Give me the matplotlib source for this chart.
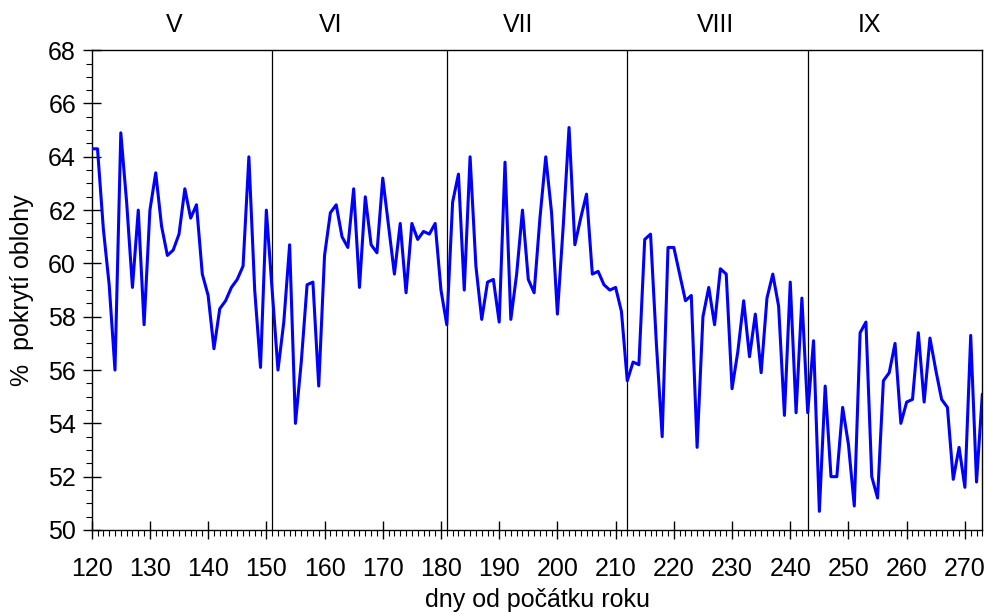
import numpy as np
import matplotlib
matplotlib.use("Agg")
import matplotlib.pyplot as plt
from matplotlib.ticker import MultipleLocator
import matplotlib.transforms as mtransforms

plt.rcParams['font.family'] = ['Liberation Sans', 'DejaVu Sans']

# den v roce 120..273, denni pokryti oblohy (%)
dny = np.arange(120, 274)
pokryti = [
    64.3, 64.3, 61.3, 59.2, 56.0, 64.9, 62.3, 59.1, 62.0, 57.7,   # 120-129
    62.0, 63.4, 61.4, 60.3, 60.5, 61.1, 62.8, 61.7, 62.2, 59.6,   # 130-139
    58.8, 56.8, 58.3, 58.6, 59.1, 59.4, 59.9, 64.0, 59.0, 56.1,   # 140-149
    62.0, 59.0, 56.0, 57.8, 60.7, 54.0, 56.3, 59.2, 59.3, 55.4,   # 150-159
    60.3, 61.9, 62.2, 61.0, 60.6, 62.8, 59.1, 62.5, 60.7, 60.4,   # 160-169
    63.2, 61.4, 59.6, 61.5, 58.9, 61.5, 60.9, 61.2, 61.1, 61.5,   # 170-179
    59.0, 57.7, 62.3, 63.35, 59.0, 64.0, 59.9, 57.9, 59.3, 59.4,  # 180-189
    57.8, 63.8, 57.9, 59.6, 62.0, 59.4, 58.9, 61.7, 64.0, 61.9,   # 190-199
    58.1, 61.4, 65.1, 60.7, 61.7, 62.6, 59.6, 59.7, 59.2, 59.0,   # 200-209
    59.1, 58.2, 55.6, 56.3, 56.2, 60.9, 61.1, 57.0, 53.5, 60.6,   # 210-219
    60.6, 59.6, 58.6, 58.8, 53.1, 58.0, 59.1, 57.7, 59.8, 59.6,   # 220-229
    55.3, 56.7, 58.6, 56.5, 58.1, 55.9, 58.7, 59.6, 58.4, 54.3,   # 230-239
    59.3, 54.4, 58.7, 54.4, 57.1, 50.7, 55.4, 52.0, 52.0, 54.6,   # 240-249
    53.2, 50.9, 57.4, 57.8, 52.0, 51.2, 55.6, 55.9, 57.0, 54.0,   # 250-259
    54.8, 54.9, 57.4, 54.8, 57.2, 56.0, 54.9, 54.6, 51.9, 53.1,   # 260-269
    51.6, 57.3, 51.8, 55.1,                                       # 270-273
]

# hranice mesicu a popisky
hranice = [151, 181, 212, 243]
mesice = ["V", "VI", "VII", "VIII", "IX"]
pozice_mesicu = [134.2, 161.1, 193.3, 227.1, 253.6]

fig = plt.figure(figsize=(9.86, 6.12), dpi=100)
ax = fig.add_axes([0.093, 0.134, 0.9033, 0.784])

ax.plot(dny, pokryti, color="#0000ff", lw=2.2, solid_joinstyle="round",
        solid_capstyle="round", zorder=3)

for h in hranice:
    ax.axvline(h, color="black", lw=0.9, zorder=2)

trans = mtransforms.blended_transform_factory(ax.transData, ax.transAxes)
for m, p in zip(mesice, pozice_mesicu):
    ax.text(p, 1.052, m, transform=trans, ha="center", va="center", fontsize=18)

ax.set_xlim(120, 273)
ax.set_ylim(50, 68)
ax.xaxis.set_major_locator(MultipleLocator(10))
ax.xaxis.set_minor_locator(MultipleLocator(1))
ax.yaxis.set_major_locator(MultipleLocator(2))
ax.yaxis.set_minor_locator(MultipleLocator(0.5))

ax.tick_params(which="major", direction="inout", length=12.5, width=1.0,
               labelsize=18, pad=5)
ax.tick_params(which="minor", direction="out", length=4.5, width=0.8)
ax.tick_params(axis="x", which="major", pad=13)

for s in ax.spines.values():
    s.set_linewidth(1.0)

ax.set_xlabel("dny od počátku roku", fontsize=18, labelpad=5)
ax.set_ylabel("%  pokrytí oblohy", fontsize=18, labelpad=10)

fig.savefig("out.png", dpi=100)
